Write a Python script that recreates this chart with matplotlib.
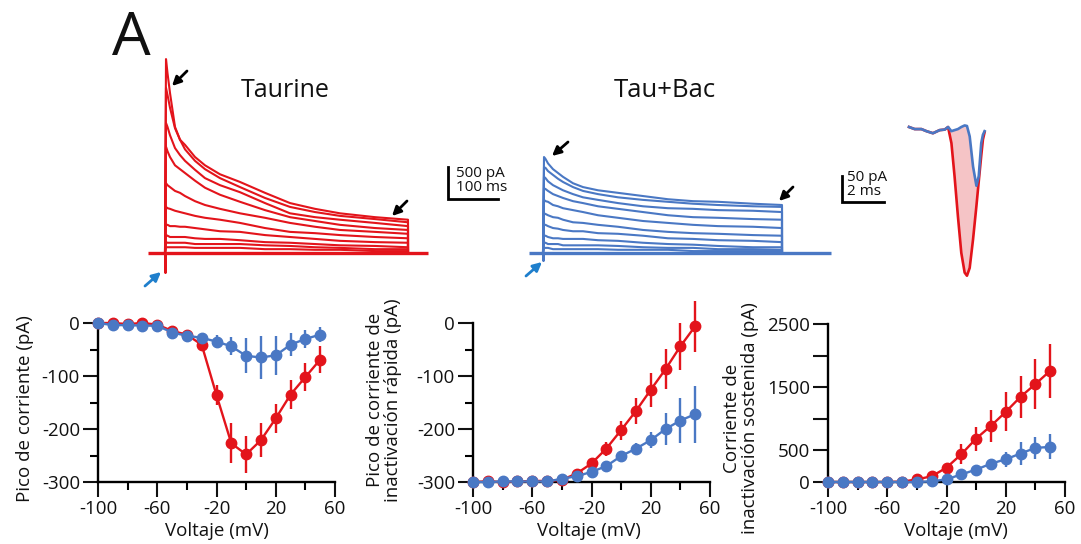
import numpy as np
import matplotlib
matplotlib.use('Agg')
import matplotlib.pyplot as plt

plt.rcParams['font.family'] = ['Open Sans', 'DejaVu Sans']
plt.rcParams['axes.unicode_minus'] = False

RED = '#e3141b'
BLUE = '#4a78c4'
ARROW_BLUE = '#1f7fcc'
PINK = '#f5c4c6'

# ---------------- I-V data ----------------
voltage = [-100, -90, -80, -70, -60, -50, -40, -30, -20, -10, 0, 10, 20, 30, 40, 50]
volt_ticks = [-100, -60, -20, 20, 60]
volt_minor = [-80, -40, 0, 40]

peak_red = [0, 0, -2, 0, -3, -15, -22, -41, -136, -227, -248, -221, -180, -135, -102, -69]
peak_red_err = [0, 0, 0, 0, 0, 3, 4, 6, 19, 38, 35, 32, 28, 28, 27, 26]
peak_blue = [0, -4, -4, -5, -5, -18, -24, -28, -35, -44, -62, -65, -61, -41, -30, -22]
peak_blue_err = [0, 0, 0, 0, 0, 4, 8, 10, 12, 17, 33, 40, 37, 22, 17, 14]

fast_red = [-300, -299, -300, -299, -298, -298, -296, -284, -265, -237, -202, -166, -126, -87, -44, -6]
fast_red_err = [0, 0, 0, 0, 0, 0, 2, 4, 5, 13, 18, 25, 32, 38, 44, 48]
fast_blue = [-300, -300, -299, -299, -299, -299, -294, -289, -281, -270, -251, -237, -221, -200, -184, -172]
fast_blue_err = [0, 0, 0, 0, 0, 0, 2, 3, 4, 5, 6, 10, 15, 30, 43, 54]

sus_red = [0, 0, 0, 0, 0, 5, 42, 90, 227, 439, 687, 888, 1110, 1348, 1549, 1760]
sus_red_err = [0, 0, 0, 0, 0, 0, 10, 20, 50, 160, 190, 250, 310, 335, 390, 425]
sus_blue = [0, 0, 0, 0, 0, 0, 0, 10, 42, 120, 196, 290, 360, 450, 540, 555]
sus_blue_err = [0, 0, 0, 0, 0, 0, 0, 0, 10, 20, 30, 80, 119, 185, 175, 198]

# ---------------- current traces (ms, pA) ----------------
trace_t = [2, 5, 10, 20, 30, 40, 60, 80, 110, 150, 200, 250, 300, 350, 420]
taurine_end = 486
taurine_sweeps = [
    [3030, 2810, 2500, 1970, 1770, 1690, 1500, 1370, 1230, 1110, 940, 780, 690, 620, 560, 520],
    [2580, 2470, 2270, 1950, 1770, 1620, 1440, 1310, 1170, 1030, 860, 720, 640, 580, 530, 480],
    [2030, 1970, 1840, 1640, 1530, 1440, 1300, 1170, 1060, 950, 780, 620, 560, 520, 470, 420],
    [1660, 1590, 1500, 1370, 1310, 1250, 1130, 1020, 910, 800, 670, 560, 500, 440, 390, 360],
    [1090, 1060, 1030, 970, 940, 890, 810, 750, 690, 620, 550, 470, 410, 360, 330, 300],
    [720, 700, 690, 660, 640, 620, 580, 550, 520, 470, 390, 330, 310, 280, 250, 230],
    [440, 440, 420, 420, 410, 410, 390, 370, 340, 330, 280, 250, 220, 190, 170, 160],
    [280, 270, 250, 250, 250, 250, 230, 220, 220, 200, 170, 160, 140, 120, 110, 90],
    [170, 160, 160, 160, 160, 160, 140, 140, 140, 140, 120, 110, 90, 80, 60, 60],
    [90, 90, 90, 90, 90, 90, 80, 80, 80, 80, 60, 60, 50, 50, 30, 30],
]
taurine_transient = -297
taurine_base = [-34, 526]

taubac_end = 478
taubac_sweeps = [
    [1500, 1470, 1400, 1310, 1250, 1190, 1090, 1030, 980, 940, 890, 840, 810, 800, 770, 750],
    [1340, 1330, 1280, 1220, 1160, 1110, 1030, 970, 920, 870, 830, 800, 770, 750, 730, 720],
    [1190, 1170, 1120, 1060, 1020, 980, 920, 870, 830, 780, 730, 700, 690, 670, 660, 640],
    [1010, 1000, 970, 920, 890, 860, 810, 780, 730, 690, 640, 590, 560, 550, 530, 520],
    [830, 810, 800, 750, 730, 700, 670, 640, 590, 550, 500, 470, 440, 420, 410, 390],
    [620, 610, 590, 560, 550, 520, 480, 470, 440, 410, 360, 330, 310, 300, 280, 270],
    [440, 440, 420, 390, 380, 360, 340, 340, 310, 300, 270, 230, 220, 200, 190, 170],
    [270, 270, 250, 230, 230, 220, 220, 220, 200, 190, 160, 140, 130, 110, 90, 90],
    [160, 160, 140, 140, 140, 120, 120, 120, 120, 110, 90, 80, 80, 60, 60, 50],
    [80, 80, 80, 60, 60, 60, 60, 60, 60, 50, 50, 50, 30, 30, 30, 30],
]
taubac_transient = -109
taubac_base = [-28, 576]

# inset (ms, pA)
inset_t = [0, 0.27, 0.59, 0.83, 1.14, 1.46, 1.7, 1.86, 2.02, 2.17, 2.33, 2.49, 2.65,
           2.76, 2.89, 3.05, 3.21, 3.32, 3.44, 3.52, 3.60]
inset_red = [0, -4, -4, -8, -12, -6, -5, 0, -31, -95, -172, -242, -280,
             -286, -271, -216, -152, -105, -55, -24, -10]
inset_blue = [0, -4, -4, -8, -12, -6, -5, 0, -8, -6, -4, 0, 3,
              2, -18, -76, -113, -95, -31, -15, -8]

W, H = 1081, 544
fig = plt.figure(figsize=(W / 100, H / 100), dpi=100)


def px_axes(x0, y0, x1, y1, **kw):
    return fig.add_axes([x0 / W, 1 - y1 / H, (x1 - x0) / W, (y1 - y0) / H], **kw)


# ---------------- traces ----------------
def draw_traces(ax, sweeps, t_end, transient, base, color):
    ax.plot(base, [0, 0], color=color, lw=2.4, solid_capstyle='butt')
    ax.plot([0, 0, 0], [0, transient, 0], color=color, lw=1.8)
    for sw in sweeps:
        x = [0] + trace_t + [t_end, t_end]
        y = [0] + sw + [0]
        ax.plot(x, y, color=color, lw=1.5, solid_joinstyle='round')


pa_per_px = 500 / 32.0
ms_per_px = 2.0

ax_t = px_axes(140, 50, 510, 290)
ax_t.set_xlim((140 - 165) * ms_per_px, (510 - 165) * ms_per_px)
ax_t.set_ylim((253 - 290) * pa_per_px, (253 - 50) * pa_per_px)
ax_t.axis('off')
draw_traces(ax_t, taurine_sweeps, taurine_end, taurine_transient, taurine_base, RED)
# scale bar 500 pA / 100 ms
sb_x0 = (448 - 165) * ms_per_px
sb_y0 = (253 - 199) * pa_per_px
ax_t.plot([sb_x0, sb_x0, sb_x0 + 100], [sb_y0 + 500, sb_y0, sb_y0], color='black', lw=2,
          solid_joinstyle='miter')

ax_b = px_axes(515, 50, 845, 290)
ax_b.set_xlim((515 - 543) * ms_per_px, (845 - 543) * ms_per_px)
ax_b.set_ylim((253 - 290) * pa_per_px, (253 - 50) * pa_per_px)
ax_b.axis('off')
draw_traces(ax_b, taubac_sweeps, taubac_end, taubac_transient, taubac_base, BLUE)

# inset
ax_i = px_axes(830, 100, 1000, 290)
ms_px_i = 1 / 21.0
pa_px_i = 50 / 26.0
ax_i.set_xlim((830 - 909) * ms_px_i, (1000 - 909) * ms_px_i)
ax_i.set_ylim((127 - 290) * pa_px_i, (127 - 100) * pa_px_i)
ax_i.axis('off')
ax_i.fill_between(inset_t, inset_red, inset_blue,
                  where=[r <= b for r, b in zip(inset_red, inset_blue)],
                  color=PINK, lw=0, interpolate=True)
ax_i.plot(inset_t, inset_red, color=RED, lw=1.9)
ax_i.plot(inset_t, inset_blue, color=BLUE, lw=1.9)
ib_x0 = (842 - 909) * ms_px_i
ib_y0 = (127 - 202) * pa_px_i
ax_i.plot([ib_x0, ib_x0, ib_x0 + 2], [ib_y0 + 50, ib_y0, ib_y0], color='black', lw=2,
          solid_joinstyle='miter')


# ---------------- I-V plots ----------------
def style_iv(ax, ylim, yticks, ylabels, yminor):
    for s in ['top', 'right']:
        ax.spines[s].set_visible(False)
    for s in ['left', 'bottom']:
        ax.spines[s].set_linewidth(1.7)
    ax.set_xlim(-100, 60)
    ax.set_ylim(*ylim)
    ax.set_xticks(volt_ticks)
    ax.set_xticklabels([str(v) for v in volt_ticks])
    ax.set_xticks(volt_minor, minor=True)
    ax.set_yticks(yticks)
    ax.set_yticklabels(ylabels)
    if yminor:
        ax.set_yticks(yminor, minor=True)
    ax.tick_params(which='major', length=11, width=1.5, labelsize=13.5, pad=2, colors='#111111')
    ax.tick_params(which='minor', length=6, width=1.5)
    ax.patch.set_visible(False)


def plot_series(ax, y, err, color, z):
    eb = ax.errorbar(voltage, y, yerr=err, color=color, marker='o', ms=7.5, lw=1.7,
                     elinewidth=1.7, capsize=0, zorder=z)
    for a in eb.get_children():
        a.set_clip_on(False)
    eb.lines[0].set_clip_on(False)


ax1 = px_axes(98, 323, 335, 482)
plot_series(ax1, peak_red, peak_red_err, RED, 3)
plot_series(ax1, peak_blue, peak_blue_err, BLUE, 4)
style_iv(ax1, (-300, 0), [-300, -200, -100, 0], ['-300', '-200', '-100', '0'], [-250, -150, -50])

ax2 = px_axes(473, 323, 710, 482)
plot_series(ax2, fast_red, fast_red_err, RED, 3)
plot_series(ax2, fast_blue, fast_blue_err, BLUE, 4)
style_iv(ax2, (-300, 0), [-300, -200, -100, 0], ['-300', '-200', '-100', '0'], [-250, -150, -50])

ax3 = px_axes(828, 324, 1065, 482)
plot_series(ax3, sus_red, sus_red_err, RED, 3)
plot_series(ax3, sus_blue, sus_blue_err, BLUE, 4)
style_iv(ax3, (0, 2500), [0, 500, 1000, 1500, 2000, 2500], ['0', '500', '', '1500', '', '2500'], None)


# ---------------- text & arrows (overlay in pixel space) ----------------
ov = fig.add_axes([0, 0, 1, 1], zorder=10)
ov.set_xlim(0, W)
ov.set_ylim(H, 0)
ov.axis('off')

TXT = '#111111'
ov.text(131, 55, 'A', fontsize=44, ha='center', va='baseline', color=TXT)
ov.text(285, 97, 'Taurine', fontsize=18, ha='center', va='baseline', color=TXT)
ov.text(665, 97, 'Tau+Bac', fontsize=18.5, ha='center', va='baseline', color=TXT)
ov.text(456, 177, '500 pA', fontsize=11, ha='left', va='baseline', color=TXT)
ov.text(456, 191, '100 ms', fontsize=11, ha='left', va='baseline', color=TXT)
ov.text(847, 181, '50 pA', fontsize=11, ha='left', va='baseline', color=TXT)
ov.text(847, 195, '2 ms', fontsize=11, ha='left', va='baseline', color=TXT)

for xc in (217, 589, 956):
    ov.text(xc, 531, 'Voltaje (mV)', fontsize=13.5, ha='center', va='center', color=TXT)
ov.text(25, 409, 'Pico de corriente (pA)', fontsize=13.5, rotation=90, ha='center', va='center', color=TXT)
ov.text(384, 400, 'Pico de corriente de\ninactivación rápida (pA)', fontsize=13.5, rotation=90,
        ha='center', va='center', multialignment='center', linespacing=0.95, color=TXT)
ov.text(741, 418, 'Corriente de\ninactivación sostenida (pA)', fontsize=13.5, rotation=90,
        ha='center', va='center', multialignment='center', linespacing=0.95, color=TXT)

black_arrows = [((187, 71), (172, 86)), ((407, 201), (392, 216)),
                ((568, 142), (552, 156)), ((793, 187), (779, 201))]
for tail, head in black_arrows:
    ov.annotate('', xy=head, xytext=tail,
                arrowprops=dict(arrowstyle='-|>', color='black', lw=2, mutation_scale=13,
                                shrinkA=0, shrinkB=0))
blue_arrows = [((145, 286), (161, 272)), ((526, 276), (542, 262))]
for tail, head in blue_arrows:
    ov.annotate('', xy=head, xytext=tail,
                arrowprops=dict(arrowstyle='-|>', color=ARROW_BLUE, lw=2, mutation_scale=13,
                                shrinkA=0, shrinkB=0))

fig.savefig('out.png', dpi=100)
